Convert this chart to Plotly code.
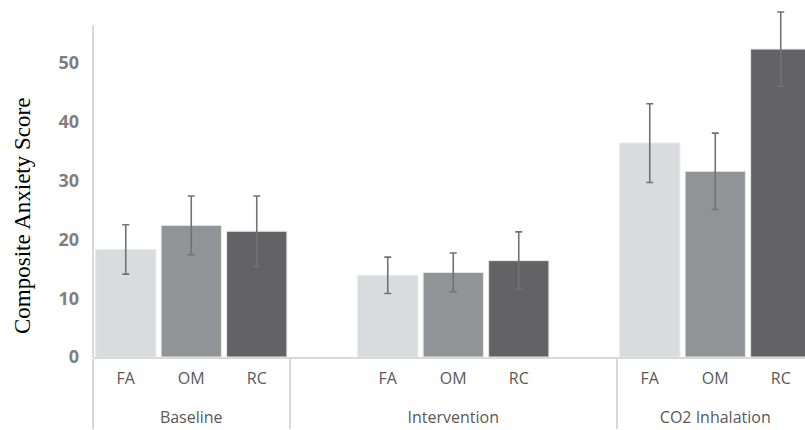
import plotly.graph_objects as go

# Data
groups = ["Baseline", "Baseline", "Baseline",
          "Intervention", "Intervention", "Intervention", "Intervention", "Intervention",
          "CO2 Inhalation", "CO2 Inhalation", "CO2 Inhalation"]
# Intervention labels carry a zero-width space so their slots keep their own order
conditions = ["FA", "OM", "RC",
              " ", "FA\u200b", "OM\u200b", "RC\u200b", "  ",
              "FA", "OM", "RC"]
scores = [18.3, 22.4, 21.4, None, 13.9, 14.4, 16.4, None, 36.4, 31.6, 52.4]
errors = [4.2, 5.0, 6.0, 0, 3.1, 3.3, 4.9, 0, 6.7, 6.5, 6.3]
cond_colors = {"FA": "#dadbdd", "OM": "#929396", "RC": "#636365"}
y_ticks = [0, 10, 20, 30, 40, 50]
y_axis_top = 56.5

group_labels = ["<br>" + g for g in groups]
bar_colors = [cond_colors.get(c.strip().replace("\u200b", ""), "#ffffff") for c in conditions]

fig = go.Figure()
fig.add_trace(go.Bar(
    x=[group_labels, conditions],
    y=scores,
    marker=dict(color=bar_colors, line=dict(color="#e8e8e8", width=1)),
    error_y=dict(type="data", array=errors, visible=True,
                 color="#727272", thickness=1.6, width=3.5),
    cliponaxis=False,
    showlegend=False,
))

fig.update_layout(
    width=805, height=430,
    margin=dict(l=93, r=0, t=5, b=73),
    paper_bgcolor="white", plot_bgcolor="white",
    bargap=0.08,
    font=dict(family="Open Sans", color="#595959"),
    xaxis=dict(
        type="multicategory",
        range=[-0.5, 10.37],
        showline=True, linecolor="#d9d9d9", linewidth=2,
        showgrid=False, ticks="",
        showdividers=True, dividercolor="#d9d9d9", dividerwidth=2,
        tickfont=dict(size=16, color="#595959", family="Open Sans"),
        ticklabelstandoff=6,
    ),
    yaxis=dict(
        range=[0, 59.9],
        tickvals=y_ticks,
        showline=False,
        showgrid=False, zeroline=False, ticks="",
        tickfont=dict(size=18, color="#7f7f7f", family="Open Sans", weight="bold"),
        ticklabelstandoff=13,
    ),
    shapes=[dict(
        type="line", xref="paper", yref="y",
        x0=0, x1=0, y0=0, y1=y_axis_top,
        line=dict(color="#d9d9d9", width=2), layer="below",
    )],
    annotations=[dict(
        text="Composite Anxiety Score", textangle=-90,
        xref="paper", yref="paper", x=-0.1, y=0.40,
        xanchor="center", yanchor="middle", showarrow=False,
        font=dict(family="Liberation Serif", size=23, color="#000000"),
    )],
)

fig.write_html(
    "out.html",
    config={"displayModeBar": False},
    post_script="document.body.style.margin='0';document.body.style.overflow='hidden';",
)
